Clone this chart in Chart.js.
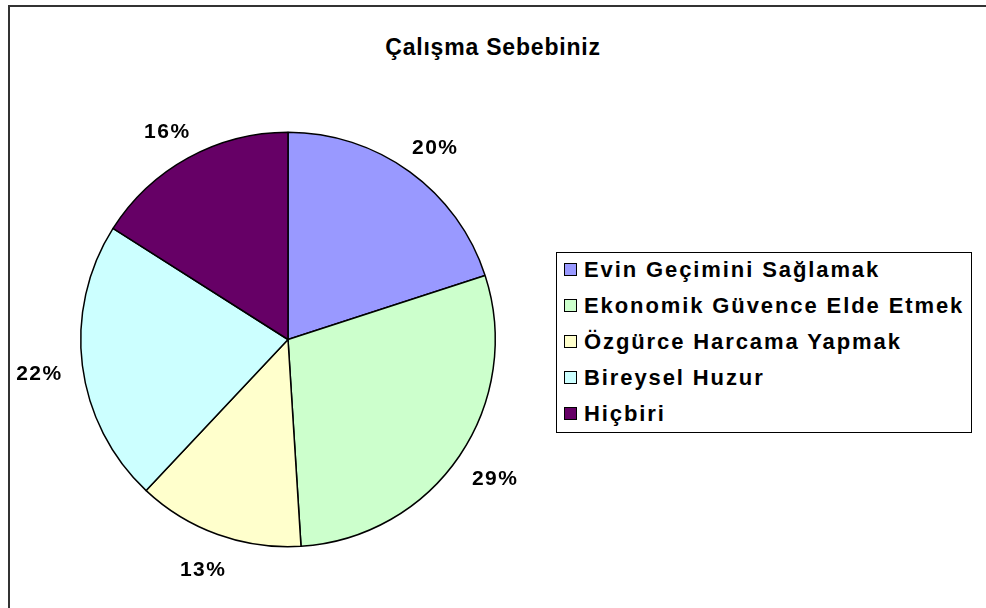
<!DOCTYPE html>
<html>
<head>
<meta charset="utf-8">
<script src="https://cdn.jsdelivr.net/npm/chart.js@4/dist/chart.umd.min.js"></script>
<style>
  body { margin: 0; background: #fff; font-family: "Liberation Sans", Arial, sans-serif; }
  .frame { position: absolute; left: 8px; top: 5px; width: 990px; height: 620px; border-top: 2px solid #333; border-left: 2px solid #333; }
  .title { position: absolute; left: 0; width: 986px; top: 34px; text-align: center; font-weight: bold; font-size: 23px; letter-spacing: 0.8px; color: #000; }
  #wrap { position: absolute; left: 0; top: 0; width: 986px; height: 608px; }
  .legend { position: absolute; left: 556px; top: 252px; width: 414px; height: 179px; border: 1px solid #000; background: #fff; }
  .legend .row { position: absolute; left: 7px; height: 24px; line-height: 24px; font-weight: bold; font-size: 22px; letter-spacing: 1.9px; white-space: nowrap; }
  .legend .sw { display: inline-block; width: 11px; height: 11px; border: 1px solid #000; margin-right: 7px; vertical-align: 1px; }
</style>
</head>
<body>
<div class="frame"></div>
<div class="title">Çalışma Sebebiniz</div>
<div id="wrap"><canvas id="chart1"></canvas></div>
<div class="legend" id="legend"></div>
<script>
var labels = ['Evin Geçimini Sağlamak', 'Ekonomik Güvence Elde Etmek', 'Özgürce Harcama Yapmak', 'Bireysel Huzur', 'Hiçbiri'];
var values = [20, 29, 13, 22, 16];
var colors = ['#9999FF', '#CCFFCC', '#FFFFCC', '#CCFFFF', '#660066'];

// html legend
var legend = document.getElementById('legend');
labels.forEach((lbl, i) => {
    var row = document.createElement('div');
    row.className = 'row';
    row.style.top = (5 + i * 36) + 'px';
    row.innerHTML = '<span class="sw" style="background:' + colors[i] + '"></span>' + lbl;
    legend.appendChild(row);
});

// percent labels outside the slices
var outsideLabels = {
    id: 'outsideLabels',
    afterDatasetsDraw(chart) {
        var ctx = chart.ctx;
        var meta = chart.getDatasetMeta(0);
        var total = values.reduce((a, b) => a + b, 0);
        ctx.save();
        ctx.font = 'bold 21px "Liberation Sans", Arial, sans-serif';
        ctx.letterSpacing = '1.5px';
        ctx.fillStyle = '#000';
        ctx.textAlign = 'center';
        ctx.textBaseline = 'middle';
        meta.data.forEach((arc, i) => {
            var mid = (arc.startAngle + arc.endAngle) / 2;
            var txt = Math.round(values[i] / total * 100) + '%';
            var w = ctx.measureText(txt).width;
            var dx = Math.cos(mid), dy = Math.sin(mid);
            var r = arc.outerRadius + 20;
            var x = arc.x + dx * r + dx * w / 2;
            var y = arc.y + dy * r + dy * 14 + 4;
            ctx.fillText(txt, x, y);
        });
        ctx.restore();
    }
};

var my_ctx = document.getElementById('chart1');
var myChart1 = new Chart(my_ctx, {
    type: 'pie',
    data: {
        labels: labels,
        datasets: [{
            data: values,
            backgroundColor: colors,
            borderColor: '#000',
            borderWidth: 1.5
        }]
    },
    options: {
        responsive: true,
        maintainAspectRatio: false,
        animation: false,
        layout: { padding: { left: 80, right: 490, top: 131, bottom: 60 } },
        plugins: {
            legend: { display: false },
            title: { display: false },
            tooltip: { enabled: false }
        }
    },
    plugins: [outsideLabels]
});
</script>
</body>
</html>
